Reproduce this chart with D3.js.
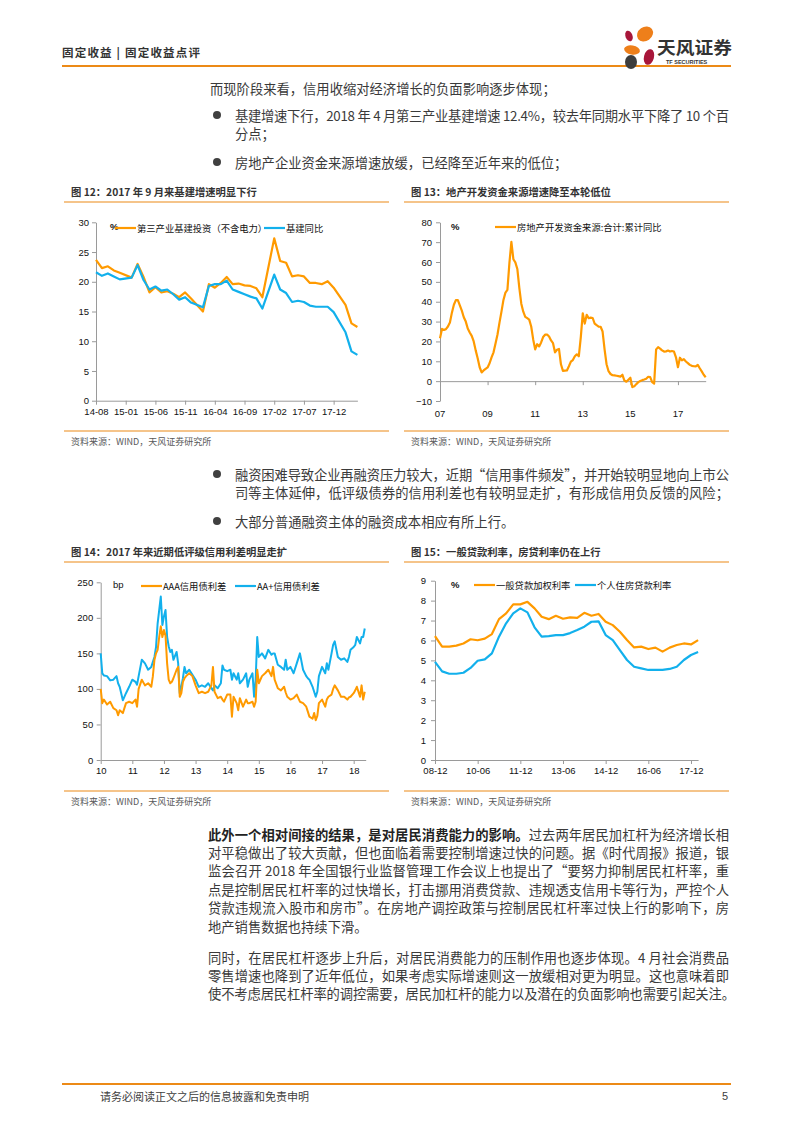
<!DOCTYPE html>
<html><head><meta charset="utf-8">
<script src="https://cdn.jsdelivr.net/npm/d3@7"></script>
<style>
body{margin:0;background:#fff;}
svg{display:block;font-family:"Noto Sans CJK SC","Noto Sans",sans-serif;}
</style></head><body>
<svg id="page" width="793" height="1122"></svg>
<script>
// ---------- Chart 12 data ----------
const infraMonths = ["14-08","14-09","14-10","14-11","14-12","15-02","15-03","15-04","15-05","15-06","15-07","15-08","15-09","15-10","15-11","15-12","16-02","16-03","16-04","16-05","16-06","16-07","16-08","16-09","16-10","16-11","16-12","17-02","17-03","17-04","17-05","17-06","17-07","17-08","17-09","17-10","17-11","17-12","18-02","18-03","18-04"];
const infraInvest = [23.7,22.3,22.6,21.9,21.5,20.7,23.0,20.8,18.2,19.1,18.2,18.4,18.0,17.4,18.2,17.2,15.0,19.6,19.0,19.8,20.8,19.6,19.7,19.4,19.3,18.9,17.4,27.3,23.5,23.2,20.9,21.1,20.9,19.8,19.8,19.6,20.1,19.0,16.1,13.0,12.4];
const infraYoY = [21.6,21.0,21.4,20.9,20.4,20.7,22.8,20.3,18.7,19.2,18.5,18.7,17.9,17.0,17.4,16.5,15.7,19.3,19.6,19.6,20.2,18.7,18.3,17.9,17.5,17.2,15.5,21.2,18.7,18.1,16.6,16.8,16.6,16.0,15.8,15.8,15.8,14.9,11.5,8.3,7.7];
const infraTicks = ["14-08","15-01","15-06","15-11","16-04","16-09","17-02","17-07","17-12"];
const infraYTicks = [0,5,10,15,20,25,30];

// ---------- Chart 13 data (monthly from 2007-01) ----------
const reStartYear = 2007;
const reFunding = [21.6,26.3,25.8,26.2,27.5,29.5,34.5,38.5,40.8,40.8,
38.2,35.5,32.2,30.0,26.5,24.5,22.8,20.0,15.5,11.5,
7.0,4.4,5.4,6.2,6.9,9.0,12.0,14.5,19.0,23.5,
29.5,35.0,40.9,44.6,46.0,59.4,70.1,61.4,59.8,56.5,
47.0,39.0,35.0,32.4,31.7,31.0,27.5,21.0,16.0,18.6,
17.5,19.5,22.2,23.4,23.5,22.5,20.5,19.1,14.5,15.8,
16.2,8.5,5.2,5.3,5.4,7.5,9.8,10.6,12.5,13.5,
12.5,22.0,34.2,29.0,33.4,31.7,32.0,31.8,29.0,28.2,
27.5,27.4,25.0,16.0,8.5,5.0,3.6,3.0,2.9,2.7,
2.5,2.3,3.2,0.3,-0.3,0.7,1.7,-3.0,-2.6,-1.5,
-0.5,0.1,0.5,0.8,1.2,2.2,2.0,-0.5,-1.2,16.0,
17.1,16.4,15.5,14.9,15.0,15.4,14.9,15.2,14.9,12.0,
7.0,11.8,10.5,11.1,9.9,9.1,8.2,7.7,7.5,7.4,
8.2,6.5,4.9,3.2,2.0];
const reTicks = ["07","09","11","13","15","17"];
const reYTicks = [-10,0,10,20,30,40,50,60,70,80];

// ---------- Chart 14 data ----------
const spreadTimes = [2010.0,2010.05,2010.1,2010.2,2010.3,2010.4,2010.5,2010.55,2010.6,2010.7,2010.8,2010.9,
2011.0,2011.1,2011.15,2011.2,2011.3,2011.4,2011.5,2011.6,2011.65,2011.7,2011.75,2011.8,2011.85,2011.9,2011.95,
2012.0,2012.05,2012.1,2012.15,2012.2,2012.25,2012.3,2012.4,2012.45,2012.5,2012.55,2012.6,2012.65,2012.7,2012.8,2012.9,
2013.0,2013.1,2013.2,2013.3,2013.4,2013.5,2013.55,2013.6,2013.7,2013.8,2013.85,2013.9,
2014.0,2014.1,2014.15,2014.2,2014.3,2014.35,2014.4,2014.5,2014.6,2014.65,2014.7,2014.8,2014.85,2014.9,2014.95,
2015.0,2015.1,2015.2,2015.3,2015.4,2015.45,2015.5,2015.6,2015.7,2015.8,2015.85,2015.9,
2016.0,2016.1,2016.2,2016.3,2016.4,2016.5,2016.55,2016.6,2016.7,2016.75,2016.8,2016.85,2016.9,
2017.0,2017.1,2017.15,2017.2,2017.3,2017.35,2017.4,2017.5,2017.6,2017.7,2017.8,2017.85,2017.9,
2018.0,2018.05,2018.1,2018.2,2018.25,2018.3,2018.35];
const spreadAAA = [100,80,85,78,82,73,70,63,70,66,80,82,
80,85,75,100,113,105,108,103,118,141,150,155,173,188,173,
183,175,136,113,108,110,115,127,131,89,94,110,115,118,122,118,
105,94,96,94,96,105,131,96,87,89,85,82,
92,92,61,89,80,70,87,75,85,80,80,82,75,82,127,
108,118,122,127,118,131,113,101,98,103,95,89,
85,87,92,82,80,75,68,61,58,66,56,62,80,
85,75,85,89,92,100,105,98,89,89,85,88,89,
94,98,103,89,105,85,96];
const spreadAAplus = [150,122,119,118,112,113,118,108,103,84,94,103,
113,110,106,118,141,136,127,131,138,145,159,192,211,230,190,
202,211,173,160,152,155,141,152,136,94,103,115,131,122,127,120,
113,103,105,103,108,101,98,105,101,108,133,127,
125,127,113,122,113,122,108,113,122,103,113,122,89,113,173,
145,150,143,155,148,150,150,134,131,127,141,127,
131,122,136,150,127,118,115,113,103,96,89,96,118,
131,122,136,127,150,162,167,145,141,143,138,145,155,
159,162,173,164,173,173,185];
const spreadTicks = [2010,2011,2012,2013,2014,2015,2016,2017,2018];
const spreadYTicks = [0,50,100,150,200,250];

// ---------- Chart 15 data (quarterly from 08-12) ----------
const loanGeneral = [6.22,5.69,5.69,5.74,5.85,6.06,6.01,6.09,6.32,7.07,7.36,7.81,7.81,7.94,7.61,7.19,7.07,7.24,7.09,7.16,7.13,7.39,7.24,7.33,6.94,6.77,6.44,6.02,5.65,5.69,5.57,5.64,5.44,5.64,5.77,5.85,5.80,6.02];
const loanMortgage = [4.93,4.45,4.33,4.33,4.38,4.62,4.98,5.05,5.35,6.19,6.86,7.36,7.61,7.41,6.66,6.19,6.22,6.27,6.27,6.37,6.52,6.69,6.94,6.96,6.27,6.02,5.52,5.02,4.68,4.60,4.52,4.52,4.52,4.57,4.68,5.02,5.27,5.42];
const loanTicks = ["08-12","10-06","11-12","13-06","14-12","16-06","17-12"];
const loanYTicks = [0,1,2,3,4,5,6,7,8,9];

// ---------- styles ----------
const ORANGE = "#FF9A00", BLUE = "#12B0EC", PAGE_ORANGE = "#EC8A17";
const TEXT = "#3a3a3a", AXIS = "#9a9a9a";
const NUMFONT = "'Liberation Sans', Arial, sans-serif";

const svg = d3.select("#page");

// ---------- page header ----------
svg.append("text").attr("x",62).attr("y",52).attr("dominant-baseline","central")
  .attr("font-size",11.5).attr("font-weight","bold").attr("fill","#333")
  .attr("textLength",138).attr("lengthAdjust","spacing")
  .text("固定收益 | 固定收益点评");
svg.append("line").attr("x1",62).attr("x2",731).attr("y1",66).attr("y2",66)
  .attr("stroke",PAGE_ORANGE).attr("stroke-width",2);
// logo
const logo = svg.append("g");
logo.append("ellipse").attr("cx",645).attr("cy",34).attr("rx",8.5).attr("ry",7).attr("transform","rotate(-35 645 34)").attr("fill","#EE7F1A");
logo.append("ellipse").attr("cx",629).attr("cy",36).attr("rx",3.5).attr("ry",5.5).attr("transform","rotate(-20 629 36)").attr("fill","#A8163A");
logo.append("ellipse").attr("cx",632).attr("cy",50).attr("rx",8).attr("ry",4.5).attr("transform","rotate(10 632 50)").attr("fill","#EE7F1A");
logo.append("ellipse").attr("cx",649).attr("cy",57).attr("rx",5).attr("ry",8).attr("transform","rotate(15 649 57)").attr("fill","#A8163A");
logo.append("ellipse").attr("cx",631).attr("cy",62).attr("rx",6).attr("ry",7).attr("fill","#3d3d3d");
svg.append("text").attr("x",657).attr("y",46.5).attr("dominant-baseline","central")
  .attr("font-size",17).attr("font-weight","bold").attr("fill","#333")
  .attr("textLength",75).attr("lengthAdjust","spacingAndGlyphs").text("天风证券");
svg.append("text").attr("x",666).attr("y",61.5).attr("dominant-baseline","central")
  .attr("font-size",5.5).attr("font-family",NUMFONT).attr("font-weight","bold").attr("fill","#333")
  .text("TF SECURITIES");

// ---------- body text ----------
function line(x, y, str, opts = {}) {
  const t = svg.append("text").attr("x",x).attr("y",y).attr("dominant-baseline","central")
    .attr("font-size",opts.size || 13.3).attr("fill",TEXT);
  if (opts.len) t.attr("textLength",opts.len).attr("lengthAdjust","spacing");
  if (Array.isArray(str)) {
    str.forEach(s => t.append("tspan").attr("font-weight",s[1] ? "bold" : "normal").attr("fill", s[1] ? "#222" : TEXT).text(s[0]));
  } else t.text(str);
  return t;
}
function bullet(y) {
  svg.append("circle").attr("cx",217).attr("cy",y).attr("r",4).attr("fill","#404040");
}
line(210,88,"而现阶段来看，信用收缩对经济增长的负面影响逐步体现；");
bullet(115);
line(235,115,"基建增速下行，2018 年 4 月第三产业基建增速 12.4%，较去年同期水平下降了 10 个百",{len:494});
line(235,133,"分点；");
bullet(162);
line(235,162,"房地产企业资金来源增速放缓，已经降至近年来的低位；");

bullet(474);
line(235,474,"融资困难导致企业再融资压力较大，近期“信用事件频发”，并开始较明显地向上市公",{len:494});
line(235,492,"司等主体延伸，低评级债券的信用利差也有较明显走扩，有形成信用负反馈的风险；",{len:494});
bullet(521);
line(235,521,"大部分普通融资主体的融资成本相应有所上行。");

const paraLines = [
  [["此外一个相对间接的结果，是对居民消费能力的影响。",true],["过去两年居民加杠杆为经济增长相",false]],
  "对平稳做出了较大贡献，但也面临着需要控制增速过快的问题。据《时代周报》报道，银",
  "监会召开 2018 年全国银行业监督管理工作会议上也提出了“要努力抑制居民杠杆率，重",
  "点是控制居民杠杆率的过快增长，打击挪用消费贷款、违规透支信用卡等行为，严控个人",
  "贷款违规流入股市和房市”。在房地产调控政策与控制居民杠杆率过快上行的影响下，房",
  "地产销售数据也持续下滑。"
];
paraLines.forEach((s,i) => line(208, 834 + i*18.4, s, i < 5 ? {len:521} : {}));
const para2 = [
  "同时，在居民杠杆逐步上升后，对居民消费能力的压制作用也逐步体现。4 月社会消费品",
  "零售增速也降到了近年低位，如果考虑实际增速则这一放缓相对更为明显。这也意味着即",
  "使不考虑居民杠杆率的调控需要，居民加杠杆的能力以及潜在的负面影响也需要引起关注。"
];
para2.forEach((s,i) => line(208, 957 + i*18.4, s, {len: i < 2 ? 521 : 527}));

// ---------- footer ----------
svg.append("line").attr("x1",62).attr("x2",731).attr("y1",1084).attr("y2",1084)
  .attr("stroke",PAGE_ORANGE).attr("stroke-width",2);
svg.append("text").attr("x",100).attr("y",1096).attr("dominant-baseline","central")
  .attr("font-size",11).attr("fill","#404040").text("请务必阅读正文之后的信息披露和免责申明");
svg.append("text").attr("x",722).attr("y",1096).attr("dominant-baseline","central")
  .attr("font-size",11).attr("font-family",NUMFONT).attr("fill","#404040").text("5");

// ---------- chart frames ----------
function frame(x0, y0, title) {
  svg.append("text").attr("x",x0+7).attr("y",y0).attr("dominant-baseline","central")
    .attr("font-size",10.3).attr("font-weight","bold").attr("fill","#333").text(title);
  svg.append("line").attr("x1",x0).attr("x2",x0+325).attr("y1",y0+11).attr("y2",y0+11)
    .attr("stroke",PAGE_ORANGE).attr("stroke-width",1.2);
  svg.append("line").attr("x1",x0).attr("x2",x0+325).attr("y1",y0+240).attr("y2",y0+240)
    .attr("stroke",PAGE_ORANGE).attr("stroke-width",1.2);
  svg.append("text").attr("x",x0+7).attr("y",y0+250).attr("dominant-baseline","central")
    .attr("font-size",9).attr("fill","#595959").text("资料来源：WIND，天风证券研究所");
}
frame(64,191,"图 12：2017 年 9 月来基建增速明显下行");
frame(404,191,"图 13：地产开发资金来源增速降至本轮低位");
frame(64,551,"图 14：2017 年来近期低评级信用利差明显走扩");
frame(404,551,"图 15：一般贷款利率，房贷利率仍在上行");

function styleAxis(g) {
  g.selectAll("path").attr("stroke",AXIS).attr("stroke-width",1);
  g.selectAll("line").attr("stroke",AXIS).attr("stroke-width",1);
  g.selectAll("text").attr("font-family",NUMFONT).attr("font-size",9.5).attr("fill","#111");
}
function legendItem(x1, y, label, color) {
  svg.append("line").attr("x1",x1).attr("x2",x1+21).attr("y1",y).attr("y2",y)
    .attr("stroke",color).attr("stroke-width",2.2);
  svg.append("text").attr("x",x1+22).attr("y",y).attr("dominant-baseline","central")
    .attr("font-size",9.3).attr("fill","#111").text(label);
}
function unitLabel(x, y, s) {
  svg.append("text").attr("x",x).attr("y",y).attr("dominant-baseline","central")
    .attr("font-size",9.5).attr("font-family",NUMFONT).attr("font-weight", s === "%" ? "bold" : "normal")
    .attr("fill","#111").text(s);
}

// ---------- Chart 12 ----------
{
  const mIdx = s => (+s.slice(0,2) - 14) * 12 + (+s.slice(3) - 8);
  const x = d3.scaleLinear().domain([0,44]).range([96,357.4]);
  const y = d3.scaleLinear().domain([0,30]).range([400.7,222.3]);
  const gy = svg.append("g").attr("transform","translate(96,0)")
    .call(d3.axisLeft(y).tickValues(infraYTicks).tickSize(4).tickSizeOuter(0).tickPadding(3));
  styleAxis(gy);
  const gx = svg.append("g").attr("transform","translate(0,400.7)")
    .call(d3.axisBottom(x).tickValues(infraTicks.map(mIdx)).tickFormat((d,i)=>infraTicks[i]).tickSize(4).tickSizeOuter(0).tickPadding(4));
  styleAxis(gx);
  const ln = d3.line().x(d=>x(mIdx(d[0]))).y(d=>y(d[1]));
  svg.append("path").datum(infraMonths.map((m,i)=>[m,infraInvest[i]])).attr("d",ln)
    .attr("fill","none").attr("stroke",ORANGE).attr("stroke-width",2.2).attr("stroke-linejoin","round");
  svg.append("path").datum(infraMonths.map((m,i)=>[m,infraYoY[i]])).attr("d",ln)
    .attr("fill","none").attr("stroke",BLUE).attr("stroke-width",2.2).attr("stroke-linejoin","round");
  unitLabel(110,226,"%");
  legendItem(115,228,"第三产业基建投资（不含电力）",ORANGE);
  legendItem(264,228,"基建同比",BLUE);
}

// ---------- Chart 13 ----------
{
  const x = d3.scaleLinear().domain([0,134]).range([440,705.7]);
  const y = d3.scaleLinear().domain([-10,80]).range([401,222.3]);
  const gy = svg.append("g").attr("transform","translate(440,0)")
    .call(d3.axisLeft(y).tickValues(reYTicks).tickSize(4).tickSizeOuter(0).tickPadding(4));
  styleAxis(gy);
  const tickIdx = reTicks.map((t,i)=>i*24);
  const gx = svg.append("g").attr("transform",`translate(0,${y(0)})`)
    .call(d3.axisBottom(x).tickValues(tickIdx).tickFormat("").tickSize(4).tickSizeOuter(0));
  styleAxis(gx);
  svg.append("g").selectAll("text").data(reTicks).join("text")
    .attr("x",(d,i)=>x(tickIdx[i])).attr("y",413).attr("text-anchor","middle").attr("dominant-baseline","central")
    .attr("font-family",NUMFONT).attr("font-size",9.5).attr("fill","#111").text(d=>d);
  svg.append("path").datum(reFunding).attr("d",d3.line().x((d,i)=>x(i)).y(d=>y(d)))
    .attr("fill","none").attr("stroke",ORANGE).attr("stroke-width",2.2).attr("stroke-linejoin","round");
  unitLabel(451,226,"%");
  legendItem(495,227,"房地产开发资金来源:合计:累计同比",ORANGE);
}

// ---------- Chart 14 ----------
{
  const x = d3.scaleLinear().domain([2010,2018.38]).range([100.7,365.7]);
  const y = d3.scaleLinear().domain([0,250]).range([760,582.3]);
  const gy = svg.append("g").attr("transform","translate(100.7,0)")
    .call(d3.axisLeft(y).tickValues(spreadYTicks).tickSize(4).tickSizeOuter(0).tickPadding(3.5));
  styleAxis(gy);
  const gx = svg.append("g").attr("transform","translate(0,760)")
    .call(d3.axisBottom(x).tickValues(spreadTicks).tickFormat(d=>String(d).slice(2)).tickSize(4).tickSizeOuter(0).tickPadding(3.5));
  styleAxis(gx);
  const ln = d3.line().x(d=>x(d[0])).y(d=>y(d[1]));
  svg.append("path").datum(spreadTimes.map((t,i)=>[t,spreadAAplus[i]])).attr("d",ln)
    .attr("fill","none").attr("stroke",BLUE).attr("stroke-width",2).attr("stroke-linejoin","round");
  svg.append("path").datum(spreadTimes.map((t,i)=>[t,spreadAAA[i]])).attr("d",ln)
    .attr("fill","none").attr("stroke",ORANGE).attr("stroke-width",2).attr("stroke-linejoin","round");
  unitLabel(113,584,"bp");
  legendItem(141,586,"AAA信用债利差",ORANGE);
  legendItem(235,586,"AA+信用债利差",BLUE);
}

// ---------- Chart 15 ----------
{
  const x = d3.scaleLinear().domain([0,37]).range([435,698.1]);
  const y = d3.scaleLinear().domain([0,9]).range([760,580.7]);
  const gy = svg.append("g").attr("transform","translate(435,0)")
    .call(d3.axisLeft(y).tickValues(loanYTicks).tickSize(4).tickSizeOuter(0).tickPadding(5));
  styleAxis(gy);
  const gx = svg.append("g").attr("transform","translate(0,760)")
    .call(d3.axisBottom(x).tickValues(loanTicks.map((t,i)=>i*6)).tickFormat((d,i)=>loanTicks[i]).tickSize(4).tickSizeOuter(0).tickPadding(3.5));
  styleAxis(gx);
  const ln = d3.line().x((d,i)=>x(i)).y(d=>y(d));
  svg.append("path").datum(loanGeneral).attr("d",ln)
    .attr("fill","none").attr("stroke",ORANGE).attr("stroke-width",2.2).attr("stroke-linejoin","round");
  svg.append("path").datum(loanMortgage).attr("d",ln)
    .attr("fill","none").attr("stroke",BLUE).attr("stroke-width",2.2).attr("stroke-linejoin","round");
  unitLabel(451,584,"%");
  legendItem(474,585,"一般贷款加权利率",ORANGE);
  legendItem(575,585,"个人住房贷款利率",BLUE);
}
</script>
</body></html>
